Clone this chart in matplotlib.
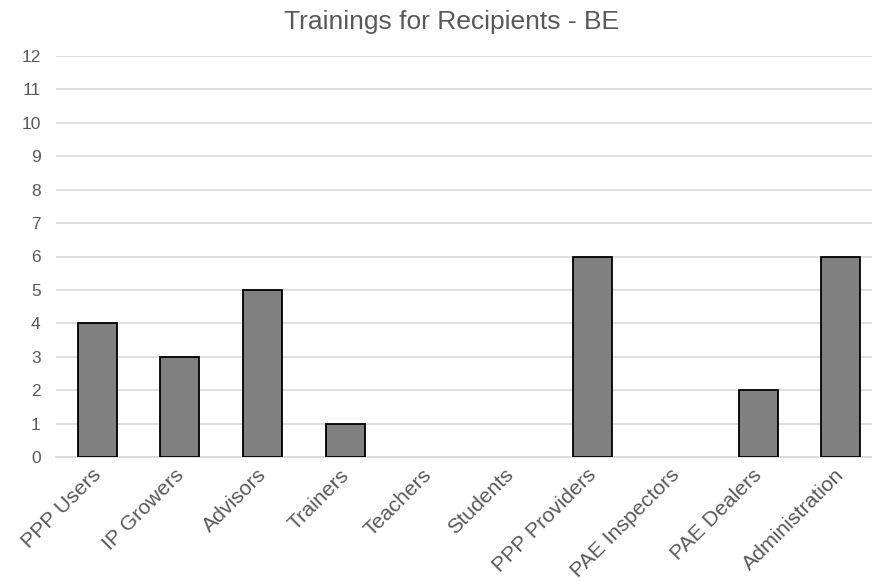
import matplotlib
matplotlib.use("Agg")
import matplotlib.pyplot as plt
import matplotlib.transforms as mtransforms
import numpy as np

categories = ["PPP Users", "IP Growers", "Advisors", "Trainers", "Teachers",
              "Students", "PPP Providers", "PAE Inspectors", "PAE Dealers",
              "Administration"]
values = [4, 3, 5, 1, 0, 0, 6, 0, 2, 6]
y_ticks = list(range(0, 13))
title = "Trainings for Recipients - BE"

plt.rcParams["font.family"] = ["Liberation Sans", "DejaVu Sans"]

fig = plt.figure(figsize=(8.72, 5.81), dpi=100)
ax = fig.add_axes([56 / 872, 1 - 457 / 581, 826 / 872, (457 - 56) / 581])

x = np.arange(len(categories))
# empty categories get no outline so nothing is drawn for them
edge_widths = [1.3 if v > 0 else 0 for v in values]
ax.bar(x, values, width=0.47, color="#808080", edgecolor="#000000",
       linewidth=edge_widths, zorder=3)

ax.set_xlim(-0.5, len(categories) - 0.5)
ax.set_ylim(0, 12)
ax.set_yticks(y_ticks)
ax.set_yticklabels([str(v) for v in y_ticks])
ax.yaxis.grid(True, color="#d9d9d9", linewidth=1.2, zorder=0)
ax.set_axisbelow(True)

for s in ["top", "right", "left"]:
    ax.spines[s].set_visible(False)
ax.spines["bottom"].set_color("#d9d9d9")
ax.spines["bottom"].set_linewidth(1.2)

ax.tick_params(axis="y", length=0, pad=11, labelsize=12.5, labelcolor="#595959")
ax.tick_params(axis="x", length=0, pad=6, labelsize=15.3, labelcolor="#595959")
ax.set_xticks(x)
ax.set_xticklabels(categories, rotation=45, ha="right", rotation_mode="anchor")

# nudge the rotated labels so their upper ends sit just under each bar
shift = mtransforms.ScaledTranslation(-6 / 100, 0, fig.dpi_scale_trans)
for lbl in ax.get_xticklabels():
    lbl.set_transform(lbl.get_transform() + shift)

fig.text(452 / 872, 1 - 22 / 581, title, ha="center", va="center",
         fontsize=19, color="#595959")

fig.savefig("out.png", dpi=100)
